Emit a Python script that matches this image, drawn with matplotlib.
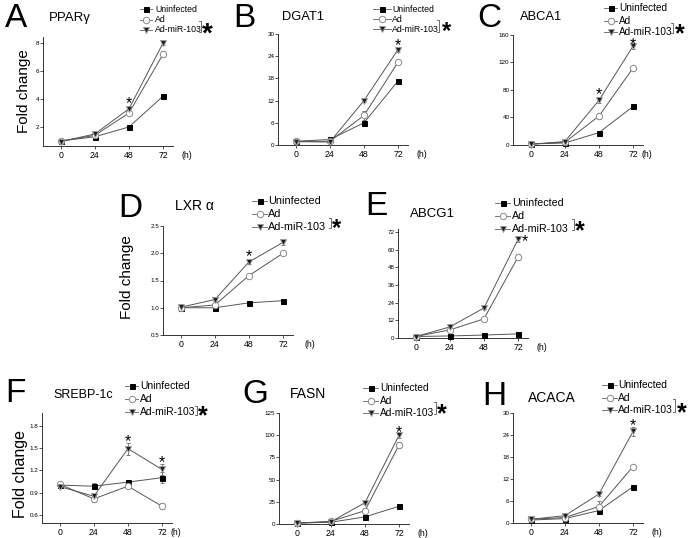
import matplotlib
matplotlib.use('Agg')
import matplotlib.pyplot as plt
from matplotlib.lines import Line2D

plt.rcParams['font.family'] = ['Liberation Sans', 'DejaVu Sans']

# ---------------- data ----------------
hours = [0, 24, 48, 72]
series_names = ['Uninfected', 'Ad', 'Ad-miR-103']

pparg_uninf = [1.0, 1.3, 2.0, 4.2]
pparg_ad = [1.0, 1.4, 3.0, 7.2]
pparg_mir = [0.95, 1.5, 3.3, 8.0]
pparg_err = [[0.05, 0.05, 0.05, 0.1], [0.05, 0.05, 0.15, 0.2], [0.05, 0.05, 0.15, 0.15]]

dgat1_uninf = [1.0, 1.5, 6.0, 17.3]
dgat1_ad = [1.0, 1.0, 8.0, 22.4]
dgat1_mir = [0.9, 0.8, 12.0, 25.8]
dgat1_err = [[0.2, 0.2, 0.4, 0.4], [0.2, 0.2, 1.2, 0.5], [0.2, 0.2, 0.5, 0.8]]

abca1_uninf = [1.5, 3.0, 18.0, 56.0]
abca1_ad = [1.5, 4.0, 42.0, 112.0]
abca1_mir = [1.0, 5.0, 65.0, 144.0]
abca1_err = [[0.5, 0.5, 1.5, 2.0], [0.5, 0.5, 4.0, 3.0], [0.5, 0.5, 4.0, 5.0]]

lxra_uninf = [1.0, 1.0, 1.09, 1.13]
lxra_ad = [1.0, 1.05, 1.59, 2.0]
lxra_mir = [1.01, 1.15, 1.84, 2.2]
lxra_err = [[0.01, 0.01, 0.01, 0.01], [0.02, 0.02, 0.02, 0.03], [0.02, 0.02, 0.03, 0.04]]

abcg1_uninf = [1.0, 1.4, 2.0, 2.8]
abcg1_ad = [1.0, 5.5, 13.0, 55.0]
abcg1_mir = [1.0, 7.5, 20.4, 67.0]
abcg1_err = [[0.2, 0.2, 0.3, 0.4], [0.2, 0.8, 1.0, 2.0], [0.2, 1.0, 0.8, 1.5]]

srebp_uninf = [1.0, 0.985, 1.04, 1.10]
srebp_ad = [1.01, 0.815, 0.985, 0.715]
srebp_mir = [0.98, 0.85, 1.49, 1.21]
srebp_err = [[0.02, 0.04, 0.02, 0.07], [0.02, 0.04, 0.03, 0.04], [0.02, 0.03, 0.08, 0.08]]

fasn_uninf = [1.0, 2.0, 8.0, 20.0]
fasn_ad = [1.0, 3.0, 15.0, 89.0]
fasn_mir = [1.0, 2.5, 24.0, 100.0]
fasn_err = [[0.3, 0.3, 0.5, 1.0], [0.3, 0.5, 3.0, 3.0], [0.3, 0.5, 1.0, 3.0]]

acaca_uninf = [0.8, 1.2, 3.4, 9.9]
acaca_ad = [1.0, 1.5, 4.5, 15.4]
acaca_mir = [1.0, 2.0, 7.9, 25.0]
acaca_err = [[0.2, 0.2, 0.3, 0.3], [0.2, 0.3, 1.5, 0.5], [0.2, 0.3, 0.4, 1.2]]

# ---------------- figure ----------------
W, H = 688, 538
fig = plt.figure(figsize=(W / 100, H / 100), dpi=100)

LINE_C = '#555555'
STY = [
    dict(marker='s', mfc='black', mec='black', ms=3.6),
    dict(marker='o', mfc='white', mec='#8a8a8a', ms=4.6),
    dict(marker='v', mfc='#1c1c28', mec='#9a9a9a', ms=5.0),
]


def fx(x):
    return x / W


def fy(y):
    return 1 - y / H


def add_axes(l, t, r, b):
    return fig.add_axes([fx(l), fy(b), (r - l) / W, (b - t) / H])


def fline(xs, ys, **kw):
    fig.add_artist(Line2D([fx(v) for v in xs], [fy(v) for v in ys],
                          transform=fig.transFigure, **kw))


def star(ax, x, y, fs):
    ax.annotate('*', xy=(x, y), xytext=(0, -0.57 * fs), textcoords='offset points',
                ha='center', va='baseline', fontsize=fs, annotation_clip=False)


panels = [
    dict(letter='A', title='PPARγ', data=(pparg_uninf, pparg_ad, pparg_mir), err=pparg_err,
         box=(43, 37, 173, 146), ylim=(0.64, 8.43), yticks=[2, 4, 6, 8], fmt='%d',
         lpos=(5, 27), tpos=(49, 21), tfs=9.5,
         leg=dict(l=(140, 152), tx=155, rows=(9, 19.5, 30), fs=6.3, br=(201, 21, 32), st=(207, 26), sfs=20),
         stars=[(48, 4.0)], hx=89, fold=(24, 91, 11)),
    dict(letter='B', title='DGAT1', data=(dgat1_uninf, dgat1_ad, dgat1_mir), err=dgat1_err,
         box=(278, 34, 408, 145), ylim=(0, 30), yticks=[0, 6, 12, 18, 24, 30], fmt='%d',
         lpos=(233, 27), tpos=(282, 20), tfs=9.3,
         leg=dict(l=(373, 391), tx=392, rows=(9, 19, 29), fs=6.3, br=(439, 20, 32), st=(446, 25), sfs=17),
         stars=[(72, 28)], hx=89, fold=None),
    dict(letter='C', title='ABCA1', data=(abca1_uninf, abca1_ad, abca1_mir), err=abca1_err,
         box=(513, 35, 643, 145), ylim=(0, 160), yticks=[0, 40, 80, 120, 160], fmt='%d',
         lpos=(477, 27), tpos=(520, 20), tfs=9.3,
         leg=dict(l=(604, 617), tx=619, rows=(8, 21, 32), fs=7.2, br=(673, 23, 33), st=(680, 27), sfs=18),
         stars=[(48, 80), (72, 152)], hx=82, fold=None),
    dict(letter='D', title='LXR α', data=(lxra_uninf, lxra_ad, lxra_mir), err=lxra_err,
         box=(163, 226, 293, 335), ylim=(0.5, 2.5), yticks=[0.5, 1.0, 1.5, 2.0, 2.5], fmt='%.1f',
         lpos=(118, 217), tpos=(175, 210), tfs=10,
         leg=dict(l=(252, 267), tx=268, rows=(201, 214, 227), fs=7.8, br=(331, 218, 228), st=(337, 222), sfs=17),
         stars=[(48, 2.02)], hx=91, fold=(127, 277, 11)),
    dict(letter='E', title='ABCG1', data=(abcg1_uninf, abcg1_ad, abcg1_mir), err=abcg1_err,
         box=(398, 229, 528, 338), ylim=(0, 74), yticks=[0, 12, 24, 36, 48, 60, 72], fmt='%d',
         lpos=(365, 215), tpos=(410, 217), tfs=9.5,
         leg=dict(l=(495, 510), tx=512, rows=(203, 216, 229), fs=7.7, br=(574, 219, 230), st=(580, 224), sfs=18),
         stars=[(77, 68.6)], hx=89, fold=None),
    dict(letter='F', title='SREBP-1c', data=(srebp_uninf, srebp_ad, srebp_mir), err=srebp_err,
         box=(42, 413, 172, 523), ylim=(0.49, 1.97), yticks=[0.6, 0.9, 1.2, 1.5, 1.8], fmt='%.1f',
         lpos=(5, 402), tpos=(53, 398), tfs=9,
         leg=dict(l=(125, 138), tx=140, rows=(386, 399, 412), fs=7.5, br=(197, 406, 415), st=(203, 409), sfs=18),
         stars=[(48, 1.64), (72, 1.37)], hx=82, fold=(21, 474, 11.5)),
    dict(letter='G', title='FASN', data=(fasn_uninf, fasn_ad, fasn_mir), err=fasn_err,
         box=(279, 413, 409, 524), ylim=(0, 125), yticks=[0, 25, 50, 75, 100, 125], fmt='%d',
         lpos=(242, 403), tpos=(290, 398), tfs=10,
         leg=dict(l=(363, 378), tx=380, rows=(388, 401, 413), fs=7.3, br=(436, 402, 414), st=(442, 407), sfs=18),
         stars=[(72, 108)], hx=89, fold=None),
    dict(letter='H', title='ACACA', data=(acaca_uninf, acaca_ad, acaca_mir), err=acaca_err,
         box=(513, 413, 643, 523), ylim=(0, 30), yticks=[0, 6, 12, 18, 24, 30], fmt='%d',
         lpos=(482, 405), tpos=(528, 402), tfs=10,
         leg=dict(l=(602, 617), tx=618, rows=(385, 398, 410), fs=7.4, br=(675, 399, 412), st=(682, 406), sfs=18),
         stars=[(72, 27.9)], hx=89, fold=None),
]

for p in panels:
    ax = add_axes(*p['box'])
    for vals, err, sty in zip(p['data'], p['err'], STY):
        ax.errorbar(hours, vals, yerr=err, fmt='none', ecolor='#666666',
                    elinewidth=0.6, capsize=1.5, capthick=0.6, zorder=2)
        ax.plot(hours, vals, color=LINE_C, lw=0.7, mew=0.7, zorder=3, clip_on=False, **sty)
    ax.set_xlim(-12.5, 79)
    ax.set_ylim(*p['ylim'])
    ax.set_xticks(hours)
    ax.set_xticklabels([str(h) for h in hours])
    ax.set_yticks(p['yticks'])
    ax.set_yticklabels([p['fmt'] % v for v in p['yticks']])
    for s in ['top', 'right']:
        ax.spines[s].set_visible(False)
    for s in ['left', 'bottom']:
        ax.spines[s].set_linewidth(0.7)
        ax.spines[s].set_color('#333333')
    ax.tick_params(axis='x', length=2, width=0.6, pad=1.5, labelsize=6.3, color='#333333')
    ax.tick_params(axis='y', length=2, width=0.6, pad=0.6, labelsize=4.5, color='#333333')
    ax.annotate('(h)', xy=(p['hx'], 0), xycoords=ax.get_xaxis_transform(),
                xytext=(0, -3.5), textcoords='offset points', ha='center', va='top',
                fontsize=6.3, annotation_clip=False)
    for sx, sy in p['stars']:
        star(ax, sx, sy, 11.5)

    # letter / title / y-label
    fig.text(fx(p['lpos'][0]), fy(p['lpos'][1]), p['letter'], fontsize=24,
             ha='left', va='baseline')
    fig.text(fx(p['tpos'][0]), fy(p['tpos'][1]), p['title'], fontsize=p['tfs'],
             ha='left', va='baseline')
    if p['fold'] is not None:
        fig.text(fx(p['fold'][0]), fy(p['fold'][1]), 'Fold change', fontsize=p['fold'][2],
                 rotation=90, ha='center', va='center')

    # legend
    lg = p['leg']
    x0, x1 = lg['l']
    for name, ry, sty in zip(series_names, lg['rows'], STY):
        fline([x0, x1], [ry, ry], color='#777777', lw=0.7)
        fline([(x0 + x1) / 2], [ry], lw=0, mew=0.7, **sty)
        fig.text(fx(lg['tx']), fy(ry), name, fontsize=lg['fs'], ha='left', va='center')
    bx, by0, by1 = lg['br']
    fline([bx - 2, bx, bx, bx - 2], [by0, by0, by1, by1], color='#555555', lw=0.6)
    sfs = lg['sfs']
    fig.text(fx(lg['st'][0]), fy(lg['st'][1] + 0.57 * sfs * 100 / 72), '*',
             fontsize=sfs, fontweight='bold', ha='center', va='baseline')

fig.savefig('out.png', dpi=100)
